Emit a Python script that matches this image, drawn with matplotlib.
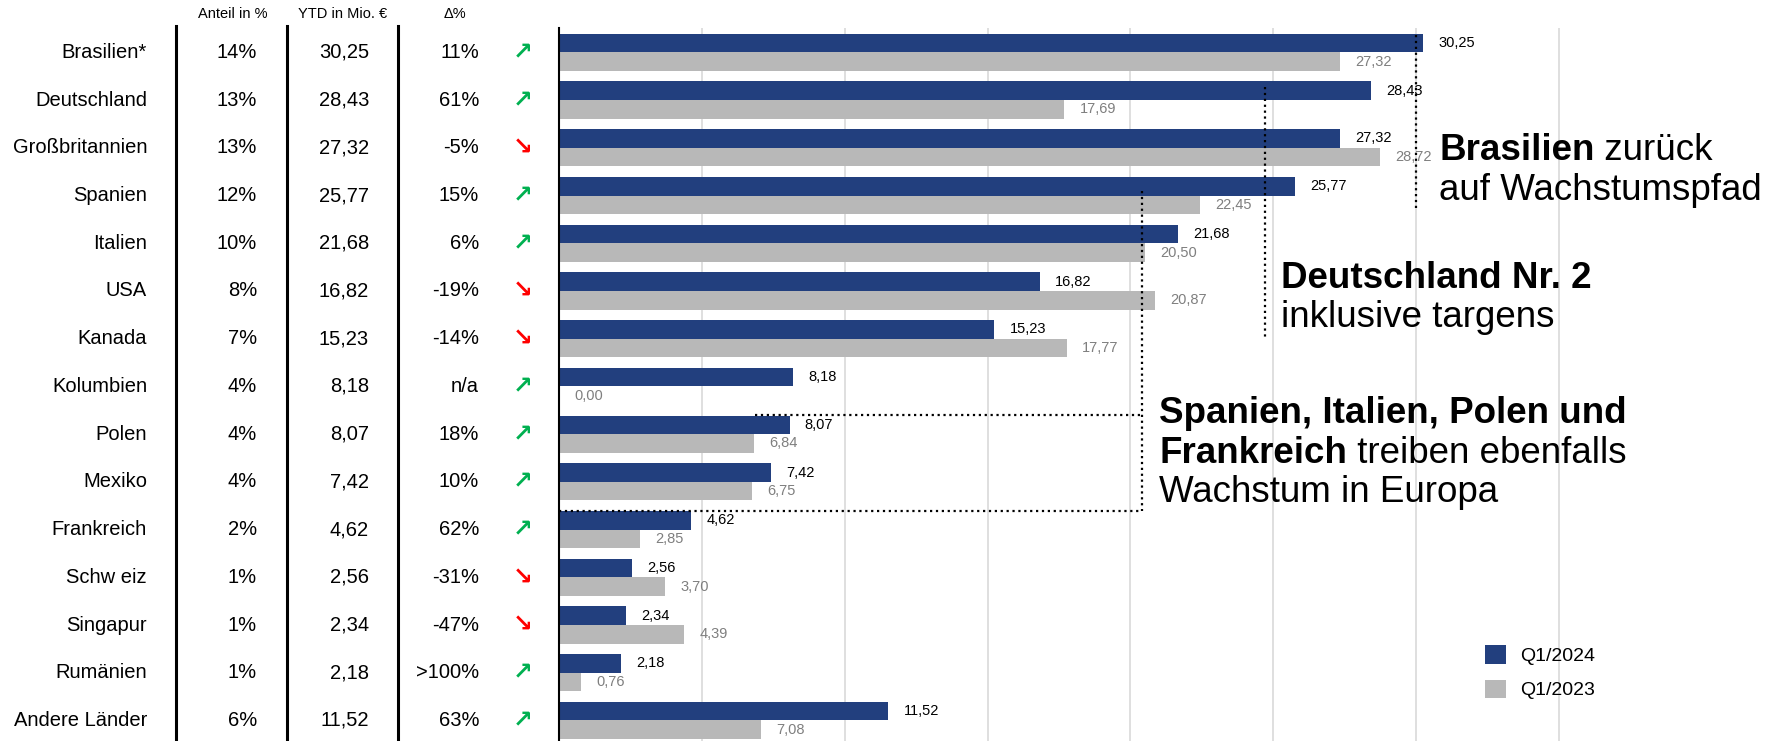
import matplotlib.pyplot as plt
from matplotlib.lines import Line2D
from matplotlib.transforms import blended_transform_factory

countries = ["Brasilien*", "Deutschland", "Großbritannien", "Spanien", "Italien",
             "USA", "Kanada", "Kolumbien", "Polen", "Mexiko", "Frankreich",
             "Schw eiz", "Singapur", "Rumänien", "Andere Länder"]
anteil = ["14%", "13%", "13%", "12%", "10%", "8%", "7%", "4%", "4%", "4%",
          "2%", "1%", "1%", "1%", "6%"]
q1_2024 = [30.25, 28.43, 27.32, 25.77, 21.68, 16.82, 15.23, 8.18, 8.07, 7.42,
           4.62, 2.56, 2.34, 2.18, 11.52]
q1_2023 = [27.32, 17.69, 28.72, 22.45, 20.50, 20.87, 17.77, 0.00, 6.84, 6.75,
           2.85, 3.70, 4.39, 0.76, 7.08]
delta = ["11%", "61%", "-5%", "15%", "6%", "-19%", "-14%", "n/a", "18%", "10%",
         "62%", "-31%", "-47%", ">100%", "63%"]
trend_up = [True, True, False, True, True, False, False, True, True, True,
            True, False, False, True, True]
headers = ["Anteil in %", "YTD in Mio. €", "\u0394%"]
legend_labels = ["Q1/2024", "Q1/2023"]

plt.rcParams['font.family'] = ['Liberation Sans', 'DejaVu Sans']

BLUE = '#223F7E'
GREY = '#B8B8B8'
W, H = 1779, 741
BIG = 26.5


def fmt(v):
    return f"{v:.2f}".replace('.', ',')


fig = plt.figure(figsize=(W / 100, H / 100), dpi=100)
fig.patch.set_facecolor('white')
ax = fig.add_axes([559 / W, 0, 1 - 559 / W, 713 / H])

rows = list(range(len(countries)))
h = 0.39
ax.barh([r - h / 2 for r in rows], q1_2024, height=h, color=BLUE,
        label=legend_labels[0], zorder=2)
ax.barh([r + h / 2 for r in rows], q1_2023, height=h, color=GREY,
        label=legend_labels[1], zorder=2)

for r, v in zip(rows, q1_2024):
    ax.annotate(fmt(v), (v, r - h / 2), xytext=(11, 0), textcoords='offset points',
                va='center', ha='left', fontsize=10.5, color='black')
for r, v in zip(rows, q1_2023):
    ax.annotate(fmt(v), (v, r + h / 2), xytext=(11, 0), textcoords='offset points',
                va='center', ha='left', fontsize=10.5, color='#7F7F7F')

ax.set_xlim(0, 42.7)
ax.set_ylim(14.43, -0.51)
ax.set_xticks(range(5, 40, 5))
ax.set_yticks([])
ax.grid(axis='x', color='#D9D9D9', lw=1.2)
ax.set_axisbelow(True)
ax.tick_params(bottom=False, labelbottom=False)
for s in ['top', 'right', 'bottom']:
    ax.spines[s].set_visible(False)
ax.spines['left'].set_linewidth(1.5)
ax.set_facecolor('none')

# table on the left
trans = blended_transform_factory(fig.transFigure, ax.transData)
for r in rows:
    ax.text(147 / W, r, countries[r], transform=trans, ha='right', va='center', fontsize=14.5)
    ax.text(257 / W, r, anteil[r], transform=trans, ha='right', va='center', fontsize=14.5)
    ax.text(369 / W, r, fmt(q1_2024[r]), transform=trans, ha='right', va='center', fontsize=14.5)
    ax.text(479 / W, r, delta[r], transform=trans, ha='right', va='center', fontsize=14.5)
    ax.text(523 / W, r, '\u2197' if trend_up[r] else '\u2198', transform=trans,
            ha='center', va='center', fontsize=17, fontweight='bold',
            family='DejaVu Sans', color='#00B050' if trend_up[r] else '#FF0000')

for x, txt in zip([233, 343, 455], headers):
    fig.text(x / W, 1 - 14 / H, txt, ha='center', va='center', fontsize=10.5)

for x in [176, 287, 398]:
    fig.add_artist(Line2D([x / W, x / W], [0, 1 - 26 / H], transform=fig.transFigure,
                          color='black', lw=2.2))

# dotted connectors
dot = dict(color='black', ls=':', lw=1.6, zorder=3, clip_on=False)
ax.plot([30.0, 30.0], [-0.36, 3.3], **dot)
ax.plot([24.7, 24.7], [0.72, 6.0], **dot)
ax.plot([20.4, 20.4], [2.9, 9.62], **dot)
ax.plot([6.85, 20.4], [7.6, 7.6], **dot)
ax.plot([0, 20.4], [9.62, 9.62], **dot)


def note(x, y, bold, regular=""):
    t = fig.text(x / W, 1 - y / H, bold, fontsize=BIG, fontweight='bold', va='baseline')
    if regular:
        ax.annotate(regular, xy=(1, 0), xycoords=t, va='bottom', ha='left', fontsize=BIG)
    return t


note(1439, 160, "Brasilien", " zurück")
fig.text(1439 / W, 1 - 200 / H, "auf Wachstumspfad", fontsize=BIG, va='baseline')
note(1281, 288, "Deutschland Nr. 2")
fig.text(1281 / W, 1 - 327 / H, "inklusive targens", fontsize=BIG, va='baseline')
note(1159, 423, "Spanien, Italien, Polen und")
note(1159, 463, "Frankreich", " treiben ebenfalls")
fig.text(1159 / W, 1 - 502 / H, "Wachstum in Europa", fontsize=BIG, va='baseline')

ax.legend(loc='upper left', bbox_to_anchor=(1485 / W, 1 - 645 / H),
          bbox_transform=fig.transFigure, frameon=False, fontsize=14,
          handlelength=1.1, handleheight=1.1, handletextpad=0.7,
          labelspacing=0.75, borderpad=0, borderaxespad=0)

fig.savefig('out.png', dpi=100)
